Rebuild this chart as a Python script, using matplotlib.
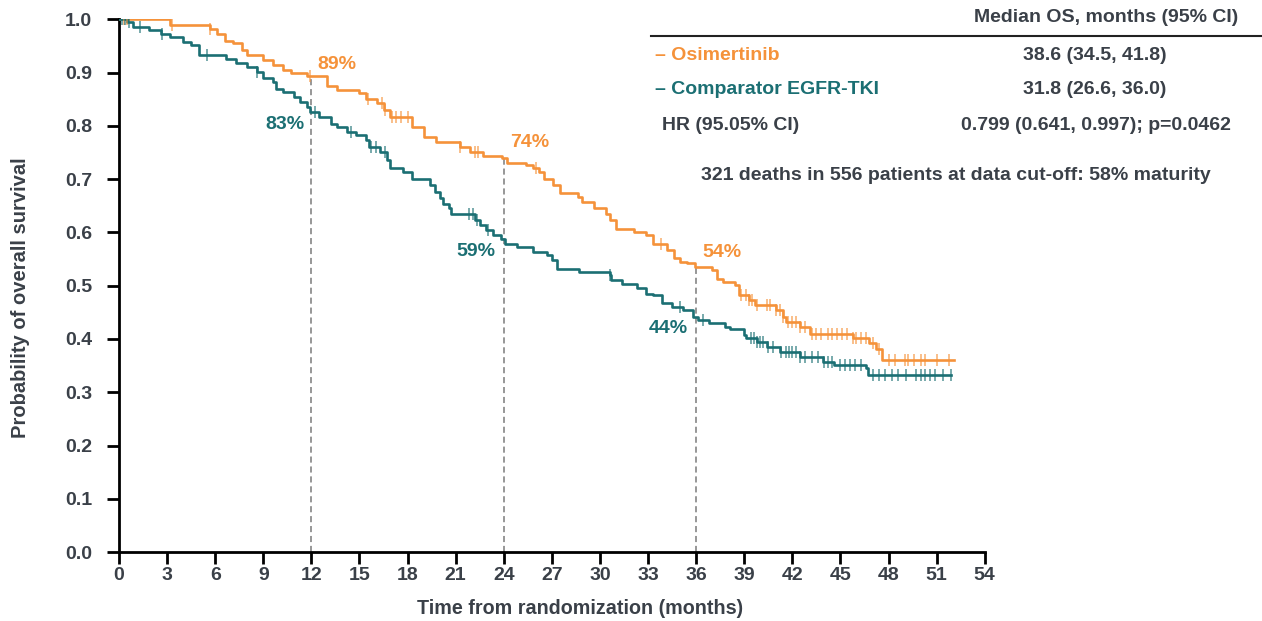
import numpy as np
import matplotlib.pyplot as plt

# Kaplan-Meier estimates (months, survival probability)
osi_t = [0, 3.2, 5.7, 6.1, 6.6, 7.1, 7.7, 8.0, 9.0, 9.6,
         10.2, 10.7, 11.7, 13.0, 13.6, 15.0, 15.4, 16.1, 16.5, 16.9,
         18.3, 19.0, 19.8, 21.3, 21.9, 22.7, 23.9, 24.2, 25.4, 25.8,
         26.2, 26.5, 27.1, 27.5, 28.6, 28.9, 29.6, 30.4, 30.6, 31.0,
         32.1, 32.9, 33.3, 34.2, 34.6, 35.0, 35.4, 35.9, 37.0, 37.3,
         37.7, 38.4, 38.7, 39.3, 39.7, 41.0, 41.4, 41.6, 42.5, 43.1,
         45.8, 46.8, 47.2, 47.6, 52.1]
osi_s = [1.0, 0.99, 0.982, 0.973, 0.96, 0.955, 0.942, 0.932, 0.923, 0.914,
         0.904, 0.899, 0.893, 0.874, 0.868, 0.861, 0.851, 0.842, 0.829, 0.817,
         0.798, 0.779, 0.770, 0.760, 0.751, 0.743, 0.739, 0.730, 0.726, 0.720,
         0.714, 0.701, 0.689, 0.673, 0.667, 0.657, 0.645, 0.635, 0.623, 0.607,
         0.601, 0.595, 0.579, 0.567, 0.551, 0.545, 0.542, 0.535, 0.529, 0.513,
         0.507, 0.501, 0.482, 0.473, 0.463, 0.454, 0.441, 0.432, 0.423, 0.410,
         0.401, 0.392, 0.382, 0.360, 0.360]
osi_cens = [0.3, 0.5, 3.3, 5.7, 11.9, 15.5, 16.4, 16.6, 17.0, 17.3, 17.6, 18.0,
            21.3, 22.2, 22.4, 26.0, 33.8, 38.8, 39.1, 39.3, 39.5, 39.8, 40.4,
            40.6, 41.0, 41.2, 41.4, 41.7, 42.0, 42.2, 42.5, 42.8, 43.2, 43.5,
            43.8, 44.2, 44.5, 44.8, 45.1, 45.4, 45.8, 46.0, 46.3, 46.6, 47.0,
            47.4, 48.0, 48.4, 49.0, 49.2, 49.6, 50.0, 50.3, 51.0, 51.8]

cmp_t = [0, 0.5, 0.9, 1.9, 2.6, 3.2, 4.0, 4.5, 5.0, 6.7,
         7.3, 8.0, 8.6, 9.0, 9.6, 9.8, 10.2, 10.9, 11.3, 11.7,
         11.9, 12.5, 13.2, 13.6, 14.2, 14.8, 15.4, 15.6, 16.3, 16.7,
         16.9, 17.7, 18.3, 19.4, 19.7, 20.0, 20.2, 20.6, 20.7, 22.2,
         22.5, 22.9, 23.3, 23.8, 24.1, 24.8, 25.8, 26.7, 27.0, 27.3,
         28.7, 30.6, 30.7, 31.4, 32.3, 32.9, 33.3, 33.9, 34.5, 35.2,
         35.8, 36.1, 36.8, 37.8, 38.1, 39.0, 39.1, 39.8, 40.4, 41.2,
         42.5, 43.9, 44.6, 46.6, 46.7, 51.9]
cmp_s = [1.0, 0.995, 0.986, 0.979, 0.973, 0.966, 0.957, 0.951, 0.932, 0.926,
         0.917, 0.911, 0.901, 0.889, 0.883, 0.870, 0.864, 0.854, 0.845, 0.835,
         0.825, 0.817, 0.804, 0.798, 0.789, 0.782, 0.773, 0.760, 0.751, 0.735,
         0.720, 0.714, 0.701, 0.689, 0.676, 0.664, 0.654, 0.645, 0.635, 0.623,
         0.613, 0.604, 0.595, 0.588, 0.579, 0.573, 0.563, 0.557, 0.548, 0.532,
         0.526, 0.520, 0.510, 0.504, 0.495, 0.485, 0.482, 0.467, 0.460, 0.455,
         0.441, 0.435, 0.429, 0.423, 0.418, 0.407, 0.401, 0.395, 0.385, 0.376,
         0.366, 0.357, 0.351, 0.345, 0.332, 0.332]
cmp_cens = [0.2, 0.4, 0.6, 1.3, 2.7, 5.5, 8.6, 12.2, 14.5, 15.7, 16.0, 16.6,
            21.8, 22.1, 22.3, 23.0, 30.6, 35.0, 36.4, 39.4, 39.6, 39.8, 40.0,
            40.2, 40.5, 40.8, 41.3, 41.6, 41.8, 42.0, 42.2, 42.5, 42.8, 43.2,
            43.6, 44.0, 44.2, 44.5, 45.0, 45.3, 45.6, 45.9, 46.3, 47.0, 47.4,
            47.8, 48.2, 48.6, 49.1, 49.7, 50.0, 50.3, 50.6, 50.9, 51.4, 51.9]

landmarks = [12, 24, 36]
osi_pct = ['89%', '74%', '54%']
cmp_pct = ['83%', '59%', '44%']

ORANGE = '#F5923A'
TEAL = '#1B6F73'
TXT = '#3A4048'

plt.rcParams['font.family'] = ['Liberation Sans', 'DejaVu Sans']
plt.rcParams['font.weight'] = 'bold'


def surv_at(t, times, surv):
    i = np.searchsorted(times, t, side='right') - 1
    return surv[i]


fig = plt.figure(figsize=(12.62, 6.21), dpi=100)
ax = fig.add_axes([0.0943, 0.111, 0.686, 0.858])

for times, surv, cens, col in [(osi_t, osi_s, osi_cens, ORANGE),
                               (cmp_t, cmp_s, cmp_cens, TEAL)]:
    ax.step(times, surv, where='post', color=col, lw=1.9, zorder=3)
    cy = [surv_at(c, times, surv) for c in cens]
    ax.plot(cens, cy, ls='none', marker='|', ms=9, mew=1.1,
            color=col, alpha=0.75, zorder=4)

# dashed landmark lines up to the osimertinib curve
for lm in landmarks:
    ax.plot([lm, lm], [0, surv_at(lm, osi_t, osi_s)], ls=(0, (4, 2.5)),
            color='#7a7a7a', lw=1.1, zorder=2)

lab_kw = dict(fontsize=14, fontweight='bold')
ax.text(12.4, 0.915, osi_pct[0], color=ORANGE, ha='left', va='center', **lab_kw)
ax.text(11.6, 0.802, cmp_pct[0], color=TEAL, ha='right', va='center', **lab_kw)
ax.text(24.4, 0.768, osi_pct[1], color=ORANGE, ha='left', va='center', **lab_kw)
ax.text(23.5, 0.564, cmp_pct[1], color=TEAL, ha='right', va='center', **lab_kw)
ax.text(36.4, 0.563, osi_pct[2], color=ORANGE, ha='left', va='center', **lab_kw)
ax.text(35.5, 0.42, cmp_pct[2], color=TEAL, ha='right', va='center', **lab_kw)

ax.set_xlim(0, 54)
ax.set_ylim(0, 1.0)
ax.set_xticks(np.arange(0, 55, 3))
ax.set_yticks(np.arange(0, 1.01, 0.1))
ax.set_yticklabels([f'{v:.1f}' for v in np.arange(0, 1.01, 0.1)])
for s in ['top', 'right']:
    ax.spines[s].set_visible(False)
for s in ['left', 'bottom']:
    ax.spines[s].set_linewidth(2)
    ax.spines[s].set_color('black')
ax.tick_params(direction='out', length=8.5, width=2, colors='black',
               labelcolor=TXT, labelsize=14)
ax.tick_params(axis='x', pad=2.5)
ax.tick_params(axis='y', pad=11)
for lbl in ax.get_yticklabels() + ax.get_xticklabels():
    lbl.set_fontweight('bold')

ax.set_xlabel('Time from randomization (months)', fontsize=14.2, color=TXT,
              fontweight='bold')
ax.xaxis.set_label_coords(0.533, -0.088)
ax.set_ylabel('Probability of overall survival', fontsize=14.5, color=TXT,
              fontweight='bold')
ax.yaxis.set_label_coords(-0.103, 0.477)

# summary table in the upper right
W, H = 1262, 621


def ftxt(x, y, s, **kw):
    fig.text(x / W, 1 - y / H, s, va='center', fontsize=14,
             fontweight='bold', **kw)


ftxt(1238, 18, 'Median OS, months (95% CI)', ha='right', color=TXT)
fig.add_artist(plt.Line2D([651 / W, 1.0], [1 - 36 / H] * 2, color='#222222',
                          lw=1.5, transform=fig.transFigure))
ftxt(655, 55, '– Osimertinib', ha='left', color=ORANGE)
ftxt(1095, 55, '38.6 (34.5, 41.8)', ha='center', color=TXT)
ftxt(655, 90, '– Comparator EGFR-TKI', ha='left', color=TEAL)
ftxt(1095, 90, '31.8 (26.6, 36.0)', ha='center', color=TXT)
ftxt(662, 125, 'HR (95.05% CI)', ha='left', color=TXT)
ftxt(1096, 125, '0.799 (0.641, 0.997); p=0.0462', ha='center', color=TXT)
ftxt(956, 176, '321 deaths in 556 patients at data cut-off: 58% maturity',
     ha='center', color=TXT)

fig.savefig('out.png', dpi=100)
